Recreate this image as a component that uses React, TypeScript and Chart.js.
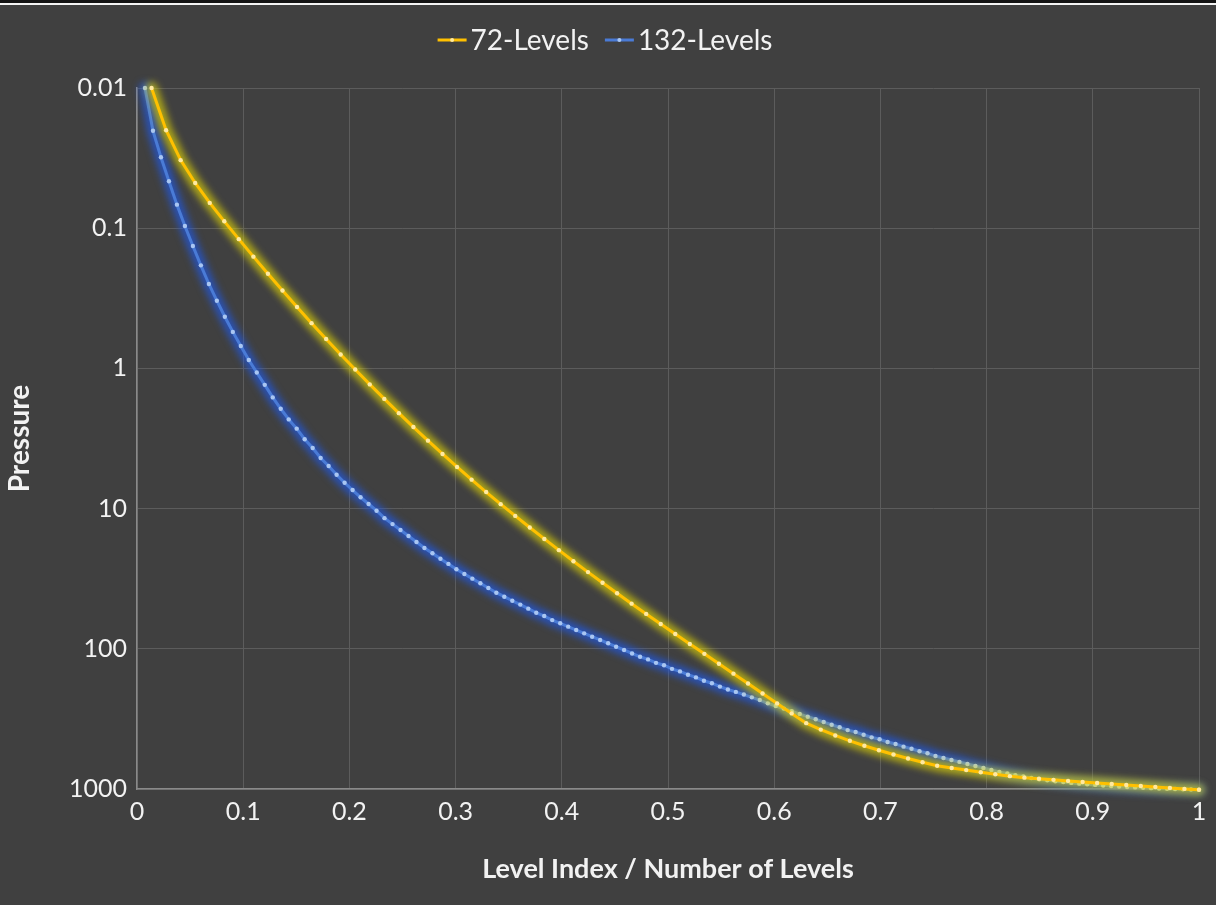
import React, { useEffect, useRef } from "react";
import { Chart, registerables } from "chart.js";

Chart.register(...registerables);

// ---------- data ----------
const SERIES_LABELS = ["72-Levels", "132-Levels"];

// edge pressures, top (index 1) to surface, 72-level grid
const PRESSURE_72 = [
  0.01, 0.02, 0.0327, 0.0476, 0.066, 0.0893, 0.1197, 0.1595, 0.2113, 0.2785,
  0.365, 0.4758, 0.6168, 0.7951, 1.0194, 1.3005, 1.6508, 2.085, 2.6202, 3.2764,
  4.0766, 5.0468, 6.2168, 7.6198, 9.2929, 11.2769, 13.6434, 16.4571, 19.7916, 23.7304,
  28.3678, 33.81, 40.1754, 47.6439, 56.3879, 66.6034, 78.5123, 92.3657, 108.663, 127.837,
  150.393, 176.93, 208.152, 245.246, 288.918, 339.012, 377.072, 415.155, 453.268, 491.394,
  529.546, 567.714, 605.886, 644.054, 682.231, 707.7, 733.16, 758.63, 784.09, 809.55,
  829.93, 845.21, 860.49, 875.78, 891.06, 906.34, 921.62, 936.91, 952.2, 967.47,
  982.77, 998.05, 1013.25,
];

// edge pressures, top (index 1) to surface, 132-level grid
const PRESSURE_132 = [
  0.01, 0.0202, 0.0312, 0.0463, 0.0679, 0.0964, 0.134, 0.184, 0.25, 0.329,
  0.428, 0.549, 0.692, 0.871, 1.07, 1.31, 1.61, 1.94, 2.31, 2.69,
  3.2, 3.7, 4.36, 4.97, 5.73, 6.54, 7.37, 8.3, 9.27, 10.35,
  11.7, 12.9, 14.2, 15.7, 17.3, 19.1, 20.8, 22.8, 24.8, 27.1,
  29.3, 31.6, 34.1, 36.8, 39.8, 42.5, 45.4, 48.4, 51.7, 55.3,
  58.4, 62.4, 65.8, 69.5, 73.5, 77.6, 82.0, 86.5, 91.4, 96.6,
  102, 108, 114, 119, 126, 131, 139, 145, 153, 160,
  169, 176, 186, 195, 203, 212, 222, 232, 245, 256,
  267, 279, 292, 305, 318, 333, 348, 363, 380, 392,
  410, 428, 442, 462, 477, 499, 516, 538, 556, 582,
  601, 621, 641, 663, 685, 708, 732, 756, 776, 796,
  815, 834, 851, 866, 880, 893, 905, 916, 926, 935,
  944, 952, 960, 967, 974, 980, 986, 992, 997, 1001,
  1005, 1009, 1013.25,
];

const X_TICKS = [0, 0.1, 0.2, 0.3, 0.4, 0.5, 0.6, 0.7, 0.8, 0.9, 1];
const X_TICK_LABELS = ["0", "0.1", "0.2", "0.3", "0.4", "0.5", "0.6", "0.7", "0.8", "0.9", "1"];
const Y_TICKS = [0.01, 0.1, 1, 10, 100, 1000];
const Y_TICK_LABELS = ["0.01", "0.1", "1", "10", "100", "1000"];
const X_TITLE = "Level Index / Number of Levels";
const Y_TITLE = "Pressure";

// ---------- styles ----------
const FONT = "Lato, 'Open Sans', sans-serif";
const TEXT_COLOR = "#f2f2f2";
const LINE_COLORS = ["#FFC000", "#4A7BD6"];
const POINT_COLORS = ["#FFE9A0", "#A9C6F2"];
const GLOW_COLORS = ["rgba(235,225,0,0.62)", "rgba(30,90,235,0.66)"];

function toPoints(values: number[]) {
  return values.map((p, i) => ({ x: (i + 1) / values.length, y: p }));
}

const bgPlugin = {
  id: "bgPlugin",
  beforeDraw(chart: any) {
    const { ctx, width, height } = chart;
    ctx.save();
    ctx.fillStyle = "#404040";
    ctx.fillRect(0, 0, width, height);
    ctx.fillStyle = "#151515";
    ctx.fillRect(0, 0, width, 3);
    ctx.fillStyle = "#f4f4f4";
    ctx.fillRect(0, 3, width, 2);
    ctx.restore();
  },
};

const glowPlugin = {
  id: "glowPlugin",
  beforeDatasetDraw(chart: any, args: any) {
    const ctx = chart.ctx;
    const pts = args.meta.data;
    if (!pts || !pts.length) return;
    ctx.save();
    ctx.filter = "blur(3.5px)";
    ctx.strokeStyle = GLOW_COLORS[args.index];
    ctx.lineWidth = 12;
    ctx.lineJoin = "round";
    ctx.lineCap = "round";
    ctx.beginPath();
    pts.forEach((p: any, k: number) => {
      if (k === 0) ctx.moveTo(p.x, p.y);
      else ctx.lineTo(p.x, p.y);
    });
    ctx.stroke();
    ctx.restore();
  },
};

const legendPlugin = {
  id: "legendPlugin",
  afterDraw(chart: any) {
    const ctx = chart.ctx;
    const lineW = 29;
    const gap = 4;
    const itemGap = 16;
    ctx.save();
    ctx.font = `28px ${FONT}`;
    const widths = SERIES_LABELS.map((t) => lineW + gap + ctx.measureText(t).width);
    const total = widths.reduce((a, b) => a + b, 0) + itemGap * (widths.length - 1);
    let x = 605 - total / 2;
    const y = 40;
    SERIES_LABELS.forEach((t, i) => {
      ctx.strokeStyle = LINE_COLORS[i];
      ctx.lineWidth = 3;
      ctx.beginPath();
      ctx.moveTo(x, y);
      ctx.lineTo(x + lineW, y);
      ctx.stroke();
      ctx.fillStyle = POINT_COLORS[i];
      ctx.beginPath();
      ctx.arc(x + lineW / 2, y, 2, 0, Math.PI * 2);
      ctx.fill();
      ctx.fillStyle = TEXT_COLOR;
      ctx.textBaseline = "middle";
      ctx.textAlign = "left";
      ctx.fillText(t, x + lineW + gap, y + 1);
      x += widths[i] + itemGap;
    });
    ctx.restore();
  },
};

export default function App() {
  const ref = useRef<HTMLCanvasElement | null>(null);

  useEffect(() => {
    if (!ref.current) return;
    const chart = new Chart(ref.current, {
      type: "scatter",
      data: {
        datasets: [PRESSURE_72, PRESSURE_132].map((vals, i) => ({
          label: SERIES_LABELS[i],
          data: toPoints(vals),
          showLine: true,
          borderColor: LINE_COLORS[i],
          borderWidth: 3,
          backgroundColor: POINT_COLORS[i],
          pointBackgroundColor: POINT_COLORS[i],
          pointBorderWidth: 0,
          pointRadius: 2.2,
          tension: 0,
          clip: false as any,
        })),
      },
      options: {
        animation: false,
        responsive: false,
        devicePixelRatio: 1,
        layout: { padding: { top: 88, right: 17, left: 0, bottom: 0 } },
        plugins: {
          legend: { display: false },
          tooltip: { enabled: false },
        },
        scales: {
          x: {
            type: "linear",
            min: 0,
            max: 1,
            afterBuildTicks: (s: any) => {
              s.ticks = X_TICKS.map((v) => ({ value: v }));
            },
            afterFit: (s: any) => {
              s.height = 905 - 789;
            },
            ticks: {
              callback: (_v: any, i: number) => X_TICK_LABELS[i],
              color: TEXT_COLOR,
              font: { family: FONT, size: 25 },
              padding: 8,
              autoSkip: false,
              maxRotation: 0,
            },
            grid: { color: "#5c5c5c", lineWidth: 1, drawTicks: false },
            border: { color: "#8a8a8a", width: 1.5 },
            title: {
              display: true,
              text: X_TITLE,
              color: TEXT_COLOR,
              font: { family: FONT, size: 27, weight: "bold" },
              padding: { top: 0, bottom: 20 },
            },
          },
          y: {
            type: "logarithmic",
            reverse: true,
            min: 0.01,
            max: 1000,
            afterBuildTicks: (s: any) => {
              s.ticks = Y_TICKS.map((v) => ({ value: v }));
            },
            afterFit: (s: any) => {
              s.width = 137;
            },
            ticks: {
              callback: (_v: any, i: number) => Y_TICK_LABELS[i],
              color: TEXT_COLOR,
              font: { family: FONT, size: 25 },
              padding: 10,
              autoSkip: false,
            },
            grid: { color: "#5c5c5c", lineWidth: 1, drawTicks: false },
            border: { color: "#8a8a8a", width: 1.5 },
            title: {
              display: true,
              text: Y_TITLE,
              color: TEXT_COLOR,
              font: { family: FONT, size: 28, weight: "bold" },
              padding: { top: 3, bottom: 0 },
            },
          },
        },
      },
      plugins: [bgPlugin, glowPlugin, legendPlugin],
    } as any);
    return () => chart.destroy();
  }, []);

  return (
    <div style={{ position: "absolute", left: 0, top: 0, width: 1216, height: 905 }}>
      <canvas ref={ref} width={1216} height={905} style={{ display: "block", width: 1216, height: 905 }} />
    </div>
  );
}
